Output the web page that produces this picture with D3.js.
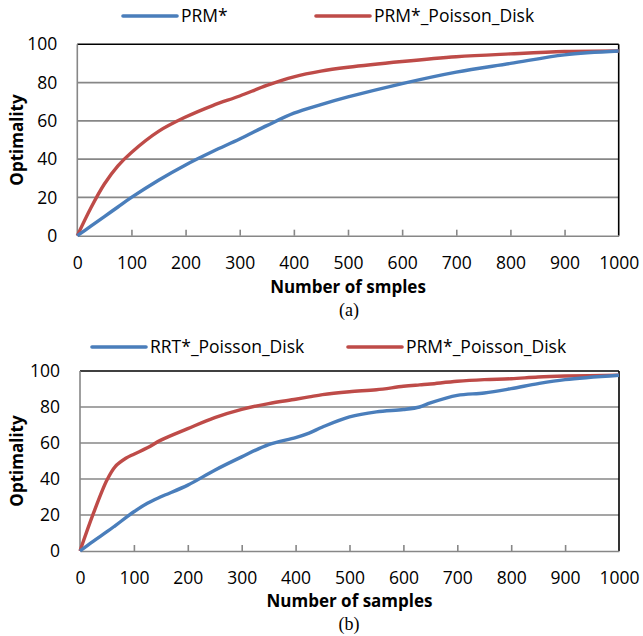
<!DOCTYPE html>
<html><head><meta charset="utf-8">
<script src="https://cdn.jsdelivr.net/npm/d3@7"></script>
<style>body{margin:0;background:#fff}svg{display:block}</style>
</head><body>
<script>
// ---- data ----
const samplesA = [0, 25, 50, 75, 100, 150, 200, 250, 300, 350, 400, 450, 500, 600, 700, 800, 900, 1000];
const prmA = [0, 5, 10, 15, 20, 29, 37, 44, 50.5, 57.5, 64, 68.5, 72.5, 79.5, 85.5, 90, 94.5, 96.5];
const prmPoissonA = [0, 14.5, 27, 36.5, 43.5, 54.5, 62, 68, 73, 78.5, 83, 86, 88, 91, 93.5, 95, 96.2, 96.5];

const samplesB = [0, 25, 50, 65, 85, 100, 125, 150, 200, 250, 300, 350, 400, 425, 450, 500, 550, 600, 630, 650, 700, 750, 800, 850, 900, 1000];
const rrtPoissonB = [0, 5.5, 10.7, 14, 18.5, 21.8, 26.5, 30.1, 36.6, 44.9, 52.3, 59.1, 63, 65.5, 68.9, 74.5, 77.3, 78.6, 80, 82.3, 86.5, 87.8, 90.2, 93, 95.2, 97.6];
const prmPoissonB = [0, 21, 39.4, 46.8, 51.5, 53.8, 57.3, 61.6, 68, 74.1, 78.7, 81.9, 84.3, 85.6, 86.9, 88.5, 89.6, 91.5, 92.3, 92.8, 94.3, 95.2, 95.7, 96.7, 97.2, 97.6];

const xTicks = [0, 100, 200, 300, 400, 500, 600, 700, 800, 900, 1000];
const yTicks = [0, 20, 40, 60, 80, 100];

const BLUE = "#4a7ebb", RED = "#be4b48", GRID = "#878787";
const FONT = "'Open Sans', 'Noto Sans', sans-serif";

const svg = d3.select("body").append("svg").attr("width", 643).attr("height", 636);

function panel(o) {
  const x = d3.scaleLinear().domain([0, 1000]).range([o.left, o.right]);
  const y = d3.scaleLinear().domain([0, 100]).range([o.bottom, o.top]);
  const g = svg.append("g");

  // gridlines
  g.append("g").selectAll("line").data(yTicks.filter(d => d > 0 && d < 100)).join("line")
    .attr("x1", o.left).attr("x2", o.right).attr("y1", d => y(d)).attr("y2", d => y(d))
    .attr("stroke", GRID).attr("stroke-width", 1.6);

  // border (top/right black)
  g.append("line").attr("x1", o.left).attr("x2", o.right).attr("y1", o.top).attr("y2", o.top)
    .attr("stroke", "#000").attr("stroke-width", 1.6);
  g.append("line").attr("x1", o.right).attr("x2", o.right).attr("y1", o.top).attr("y2", o.bottom)
    .attr("stroke", "#000").attr("stroke-width", 1.6);
  // left axis line
  g.append("line").attr("x1", o.left).attr("x2", o.left).attr("y1", o.top).attr("y2", o.bottom)
    .attr("stroke", GRID).attr("stroke-width", 1.6);

  // x axis (ticks inward)
  const xa = g.append("g").attr("transform", `translate(0,${o.bottom})`)
    .call(d3.axisBottom(x).tickValues(xTicks).tickSizeInner(-6).tickSizeOuter(0).tickPadding(0).tickFormat(d3.format("d")));
  xa.select(".domain").attr("stroke", GRID).attr("stroke-width", 1.6);
  xa.selectAll(".tick line").attr("stroke", GRID).attr("stroke-width", 1.6)
    .attr("display", d => (d === 0 || d === 1000) ? "none" : null);
  xa.selectAll(".tick text").attr("y", o.xLabelY - o.bottom).attr("dy", "0.35em")
    .attr("font-family", FONT).attr("font-size", 17.5).attr("fill", "#000");

  // y axis labels
  const ya = g.append("g").attr("transform", `translate(${o.left},0)`)
    .call(d3.axisLeft(y).tickValues(yTicks).tickSize(0).tickPadding(20).tickFormat(d3.format("d")));
  ya.select(".domain").remove();
  ya.selectAll(".tick text").attr("font-family", FONT).attr("font-size", 17.5).attr("fill", "#000");

  // lines
  const line = d3.line().x(d => x(d[0])).y(d => y(d[1])).curve(d3.curveCatmullRom.alpha(0.5));
  o.series.slice().reverse().forEach(s => {
    g.append("path").datum(o.samples.map((v, i) => [v, s.values[i]]))
      .attr("d", line).attr("fill", "none").attr("stroke", s.color)
      .attr("stroke-width", 3.4).attr("stroke-linejoin", "round");
  });

  // legend
  o.series.forEach(s => {
    g.append("line").attr("x1", s.lx).attr("x2", s.lx + 54).attr("y1", o.legendY).attr("y2", o.legendY)
      .attr("stroke", s.color).attr("stroke-width", 3.6).attr("stroke-linecap", "round");
    g.append("text").attr("x", s.lx + 58).attr("y", o.legendY).attr("dy", "0.35em")
      .attr("font-family", FONT).attr("font-size", 17.5).attr("fill", "#000").text(s.name);
  });

  // axis titles
  g.append("text").attr("x", (o.left + o.right) / 2).attr("y", o.titleY).attr("dy", "0.35em")
    .attr("text-anchor", "middle").attr("font-family", FONT).attr("font-weight", "bold")
    .attr("font-size", 17).attr("fill", "#000").text(o.xTitle);
  g.append("text").attr("transform", `translate(17,${(o.top + o.bottom) / 2}) rotate(-90)`)
    .attr("dy", "0.35em").attr("text-anchor", "middle").attr("font-family", FONT).attr("font-weight", "bold")
    .attr("font-size", 17).attr("fill", "#000").text("Optimality");
  g.append("text").attr("x", 349).attr("y", o.capY).attr("dy", "0.35em").attr("text-anchor", "middle")
    .attr("font-family", "'Liberation Serif', 'Times New Roman', serif").attr("font-size", 18)
    .attr("fill", "#000").text(o.caption);
}

panel({
  left: 77.3, right: 618.7, top: 44.3, bottom: 235.7,
  legendY: 16, xLabelY: 263, titleY: 287, capY: 310,
  samples: samplesA,
  series: [
    { name: "PRM*", values: prmA, color: BLUE, lx: 123 },
    { name: "PRM*_Poisson_Disk", values: prmPoissonA, color: RED, lx: 316 }
  ],
  xTitle: "Number of smples", caption: "(a)"
});

panel({
  left: 80, right: 619, top: 371, bottom: 551,
  legendY: 347, xLabelY: 578, titleY: 601, capY: 624,
  samples: samplesB,
  series: [
    { name: "RRT*_Poisson_Disk", values: rrtPoissonB, color: BLUE, lx: 92 },
    { name: "PRM*_Poisson_Disk", values: prmPoissonB, color: RED, lx: 348 }
  ],
  xTitle: "Number of samples", caption: "(b)"
});
</script>
</body></html>
